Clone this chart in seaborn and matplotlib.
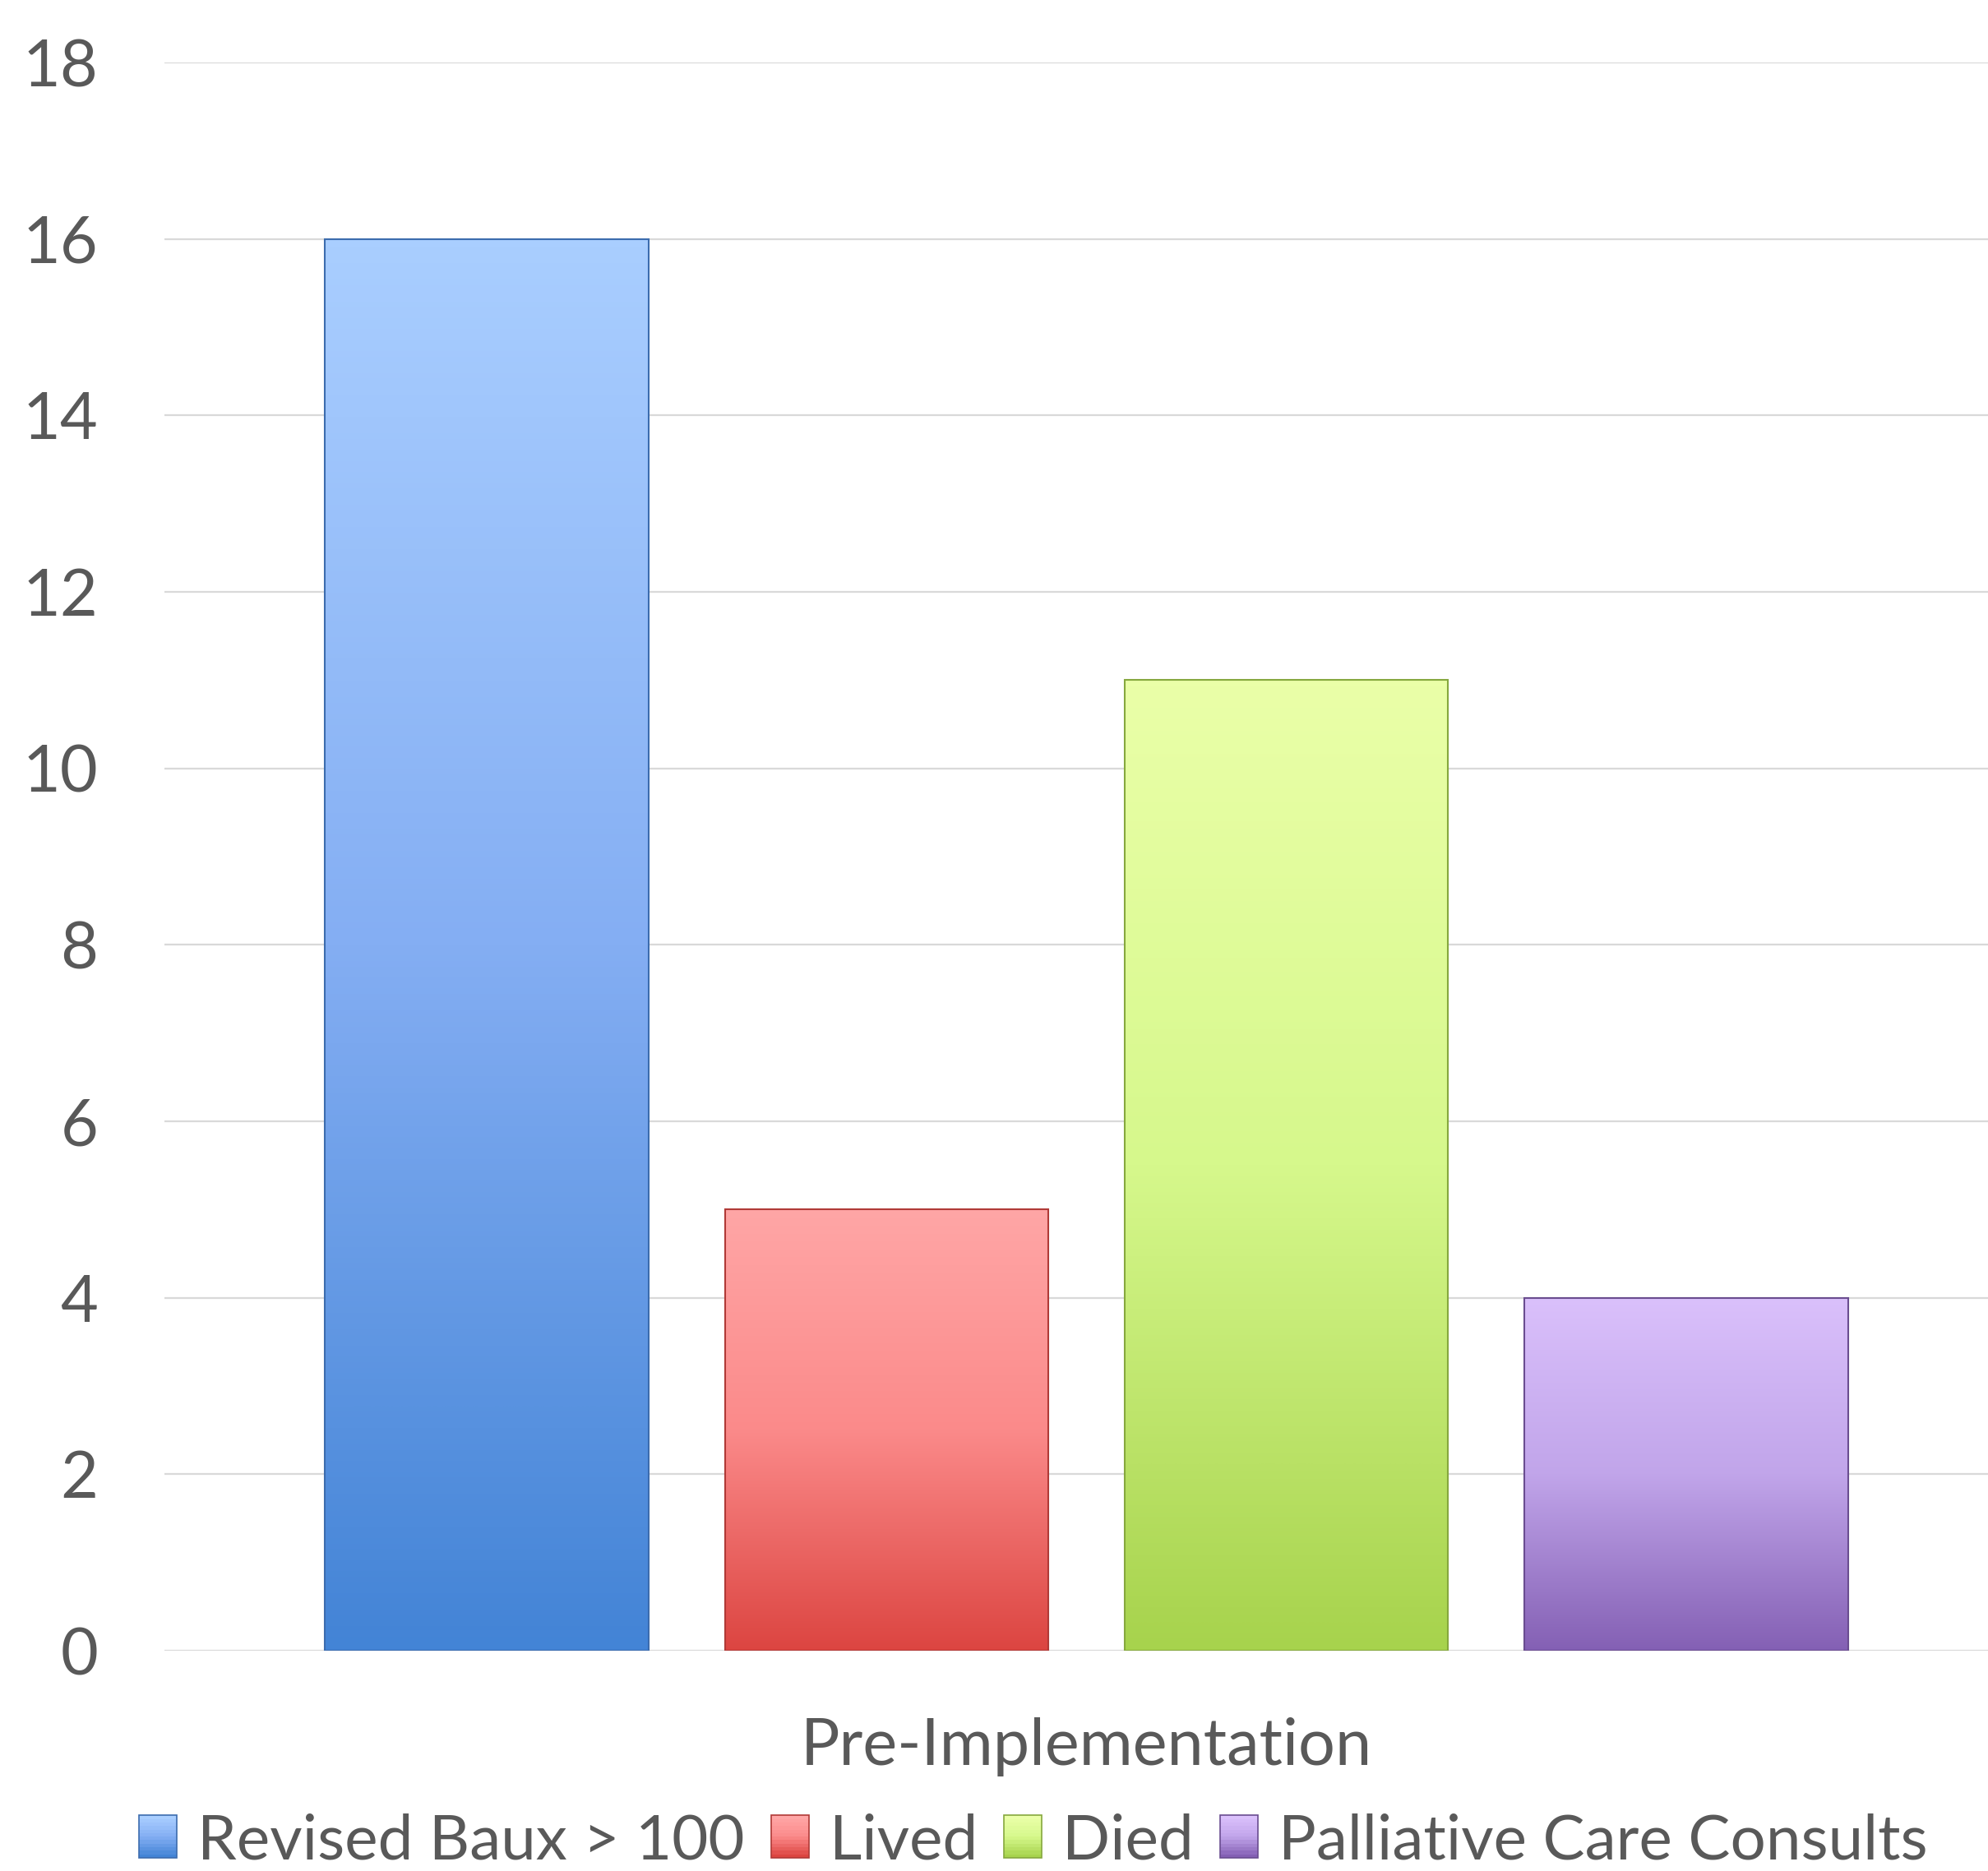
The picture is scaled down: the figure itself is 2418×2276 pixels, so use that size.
import matplotlib
matplotlib.use("Agg")
import matplotlib.pyplot as plt
import matplotlib.colors as mcolors
from matplotlib.patches import Rectangle
from matplotlib.legend_handler import HandlerBase
import numpy as np
import pandas as pd
import seaborn as sns

# data
periods = ["Pre-Implementation"]
series = ["Revised Baux > 100", "Lived", "Died", "Palliative Care Consults"]
counts = [16, 5, 11, 4]

# gradient stops (top, middle, bottom) and edge colour for each series
grad_colors = {
    "Revised Baux > 100": ["#a9ceff", "#84aef3", "#4384d6"],
    "Lived": ["#ffa6a6", "#fb8a8a", "#dc4541"],
    "Died": ["#eaffa8", "#d6f88c", "#a7d34d"],
    "Palliative Care Consults": ["#dac0fb", "#c1a5ea", "#8460b4"],
}
edge_colors = {
    "Revised Baux > 100": "#3c6cae",
    "Lived": "#b03a37",
    "Died": "#86a83e",
    "Palliative Care Consults": "#6a4d90",
}

df = pd.DataFrame({
    "period": periods * len(series),
    "series": series,
    "count": counts,
})

sns.set_style("white")
plt.rcParams["font.family"] = ["Lato", "DejaVu Sans"]
text_color = "#595959"
fsize = 57

W, H, DPI = 2418, 2276, 100
fig = plt.figure(figsize=(W / DPI, H / DPI), dpi=DPI)
ax = fig.add_axes([200 / W, 1 - 2008 / H, 2243 / W, (2008 - 76) / H])

mid_colors = {k: v[1] for k, v in grad_colors.items()}
sns.barplot(data=df, x="period", y="count", hue="series", hue_order=series,
            palette=mid_colors, width=0.867, gap=0.19, legend=False, ax=ax,
            zorder=3)


def make_cmap(stops):
    return mcolors.LinearSegmentedColormap.from_list("g", stops)


# paint a vertical gradient into each bar
for bar, name in zip(ax.patches, series):
    x, y = bar.get_x(), bar.get_y()
    w, h = bar.get_width(), bar.get_height()
    grad = np.linspace(0, 1, 256).reshape(-1, 1)
    im = ax.imshow(grad, cmap=make_cmap(grad_colors[name]), aspect="auto",
                   extent=[x, x + w, y, y + h], origin="upper", zorder=3.1,
                   interpolation="bicubic")
    im.set_clip_path(bar)
    bar.set_facecolor("none")
    bar.set_edgecolor(edge_colors[name])
    bar.set_linewidth(1.5)
    bar.set_zorder(3.2)

ax.set_xlim(-0.5, 0.5)
ax.set_ylim(0, 18)
ax.set_yticks(range(0, 19, 2))
ax.yaxis.grid(True, color="#d9d9d9", linewidth=1.6, zorder=0)
ax.xaxis.grid(False)
sns.despine(ax=ax, left=True, bottom=True, top=True, right=True)
ax.tick_params(axis="y", length=0, pad=58, labelsize=fsize, labelcolor=text_color)
ax.tick_params(axis="x", length=0, pad=58, labelsize=fsize, labelcolor=text_color)
ax.set_xlabel("")
ax.set_ylabel("")


class GradientHandler(HandlerBase):
    def __init__(self, name):
        super().__init__()
        self.name = name

    def create_artists(self, legend, orig_handle, xdescent, ydescent,
                       width, height, fontsize, trans):
        cmap = make_cmap(grad_colors[self.name])
        n = 12
        artists = []
        for i in range(n):
            r = Rectangle((-xdescent, -ydescent + height * (n - 1 - i) / n),
                          width, height / n, facecolor=cmap(i / (n - 1)),
                          edgecolor="none", transform=trans)
            artists.append(r)
        artists.append(Rectangle((-xdescent, -ydescent), width, height,
                                 facecolor="none",
                                 edgecolor=edge_colors[self.name],
                                 linewidth=1.2, transform=trans))
        return artists


handles = [Rectangle((0, 0), 1, 1) for _ in series]
handler_map = {h: GradientHandler(n) for h, n in zip(handles, series)}
leg_size = 55
leg = fig.legend(handles, series, handler_map=handler_map, loc="lower center",
                 bbox_to_anchor=(1257 / W, 2 / H), ncol=4,
                 frameon=False, fontsize=leg_size, handlelength=0.6,
                 handleheight=0.66, handletextpad=0.33, columnspacing=0.42,
                 borderpad=0, borderaxespad=0)
for t in leg.get_texts():
    t.set_color(text_color)

fig.savefig("out.png", dpi=DPI)
